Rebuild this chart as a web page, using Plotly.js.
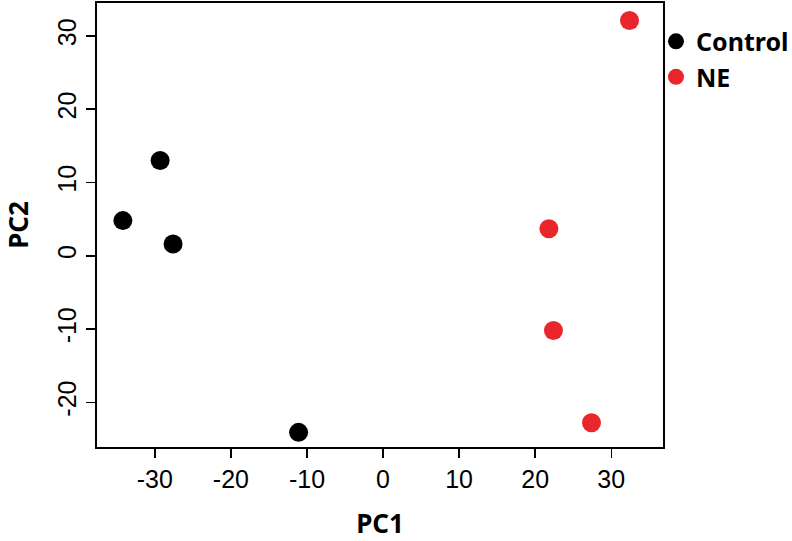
<!DOCTYPE html>
<html>
<head>
<meta charset="utf-8">
<script src="https://cdn.plot.ly/plotly-3.0.1.min.js"></script>
<style>html,body{margin:0;padding:0;background:#fff;}#plot{width:792px;height:541px;}</style>
</head>
<body>
<div id="plot"></div>
<script>
const controlPC1 = [-34.2, -29.3, -27.6, -11.1];
const controlPC2 = [4.8, 13.0, 1.6, -24.1];
const nePC1 = [32.4, 21.8, 22.4, 27.4];
const nePC2 = [32.1, 3.7, -10.2, -22.8];
const seriesNames = ['Control', 'NE'];
const xTicks = [-30, -20, -10, 0, 10, 20, 30];
const yTicks = [-20, -10, 0, 10, 20, 30];

const tickFont = {family: 'Liberation Sans, Arial, sans-serif', size: 25, color: '#000'};
const titleFont = {family: 'Noto Sans, Open Sans, sans-serif', size: 26, color: '#000', weight: 'bold'};

const traces = [
  {x: controlPC1, y: controlPC2, name: seriesNames[0], mode: 'markers', type: 'scatter',
   legendgroup: 'a', marker: {color: '#000000', size: 19}},
  {x: nePC1, y: nePC2, name: seriesNames[1], mode: 'markers', type: 'scatter',
   legendgroup: 'b', marker: {color: '#e8262c', size: 19}}
];

const layout = {
  width: 792, height: 541,
  margin: {l: 97, r: 129, t: 3, b: 94, autoexpand: false},
  paper_bgcolor: '#fff', plot_bgcolor: '#fff',
  showlegend: true,
  legend: {x: 0.9876, xanchor: 'left', y: 0.965, yanchor: 'top',
    font: {family: 'Noto Sans, Open Sans, sans-serif', size: 25, color: '#000', weight: 'bold'},
    traceorder: 'grouped', tracegroupgap: 0, bgcolor: 'rgba(0,0,0,0)'},
  xaxis: {range: [-37.6, 36.8], tickvals: xTicks, ticktext: xTicks.map(String),
    showgrid: false, zeroline: false, showline: true, mirror: true, linecolor: '#000', linewidth: 2,
    ticks: 'outside', ticklen: 9, tickwidth: 1.5, tickcolor: '#000', tickfont: tickFont,
    title: {text: 'PC1', font: titleFont, standoff: 30}},
  yaxis: {range: [-26.1, 34.5], tickvals: yTicks, ticktext: yTicks.map(String), tickangle: -90,
    showgrid: false, zeroline: false, showline: true, mirror: true, linecolor: '#000', linewidth: 2,
    ticks: 'outside', ticklen: 9, tickwidth: 1.5, tickcolor: '#000', tickfont: tickFont,
    title: {text: 'PC2', font: titleFont, standoff: 20}}
};

Plotly.newPlot('plot', traces, layout, {displayModeBar: false, staticPlot: true});
</script>
</body>
</html>
